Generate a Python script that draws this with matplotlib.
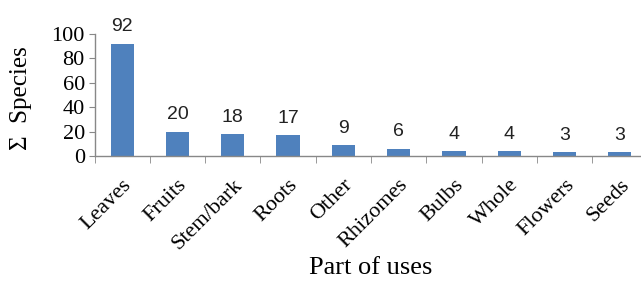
import matplotlib
matplotlib.use("Agg")
import matplotlib.pyplot as plt

# data
parts = ["Leaves", "Fruits", "Stem/bark", "Roots", "Other",
         "Rhizomes", "Bulbs", "Whole", "Flowers", "Seeds"]
species = [92, 20, 18, 17, 9, 6, 4, 4, 3, 3]
yticks = [0, 20, 40, 60, 80, 100]

W, H = 641, 282
fig = plt.figure(figsize=(W / 100, H / 100), dpi=100)
# axes box placed in pixel terms: x from 94.5 to ~647, y from 34 to 156 (top-down)
ax = fig.add_axes([94.5 / W, (H - 156) / H, 553 / W, 122 / H])

x = list(range(len(parts)))
ax.bar(x, species, width=0.42, color="#4F81BD", zorder=2)
ax.set_xlim(-0.5, len(parts) - 0.5)
ax.set_ylim(0, 100)

serif = ["Liberation Serif", "DejaVu Serif"]
for i, v in enumerate(species):
    ax.annotate(str(v), (i, v), xytext=(0, 6), textcoords="offset points",
                ha="center", va="bottom", fontsize=14,
                family=["Liberation Sans", "DejaVu Sans"], color="#222222")

ax.set_yticks(yticks)
ax.set_yticklabels([str(t) for t in yticks], family=serif, fontsize=16)
ax.set_xticks(x)
ax.set_xticklabels(parts, family=serif, fontsize=16, rotation=45,
                   ha="right", rotation_mode="anchor")
# category separator ticks on the x axis
ax.set_xticks([i - 0.5 for i in range(len(parts) + 1)], minor=True)
ax.tick_params(axis="x", which="major", length=0, pad=14)
ax.tick_params(axis="x", which="minor", length=5, color="#888888")
ax.tick_params(axis="y", length=4, color="#888888", pad=3)

for s in ["top", "right"]:
    ax.spines[s].set_visible(False)
for s in ["left", "bottom"]:
    ax.spines[s].set_color("#888888")
    ax.spines[s].set_linewidth(1)

fig.text(21 / W, 1 - 98 / H, "\u03a3  Species", rotation=90, ha="center",
         va="center", family=serif, fontsize=18)
fig.text(371 / W, 1 - 268 / H, "Part of uses", ha="center", va="center",
         family=serif, fontsize=19)

fig.savefig("out.png", dpi=100)
